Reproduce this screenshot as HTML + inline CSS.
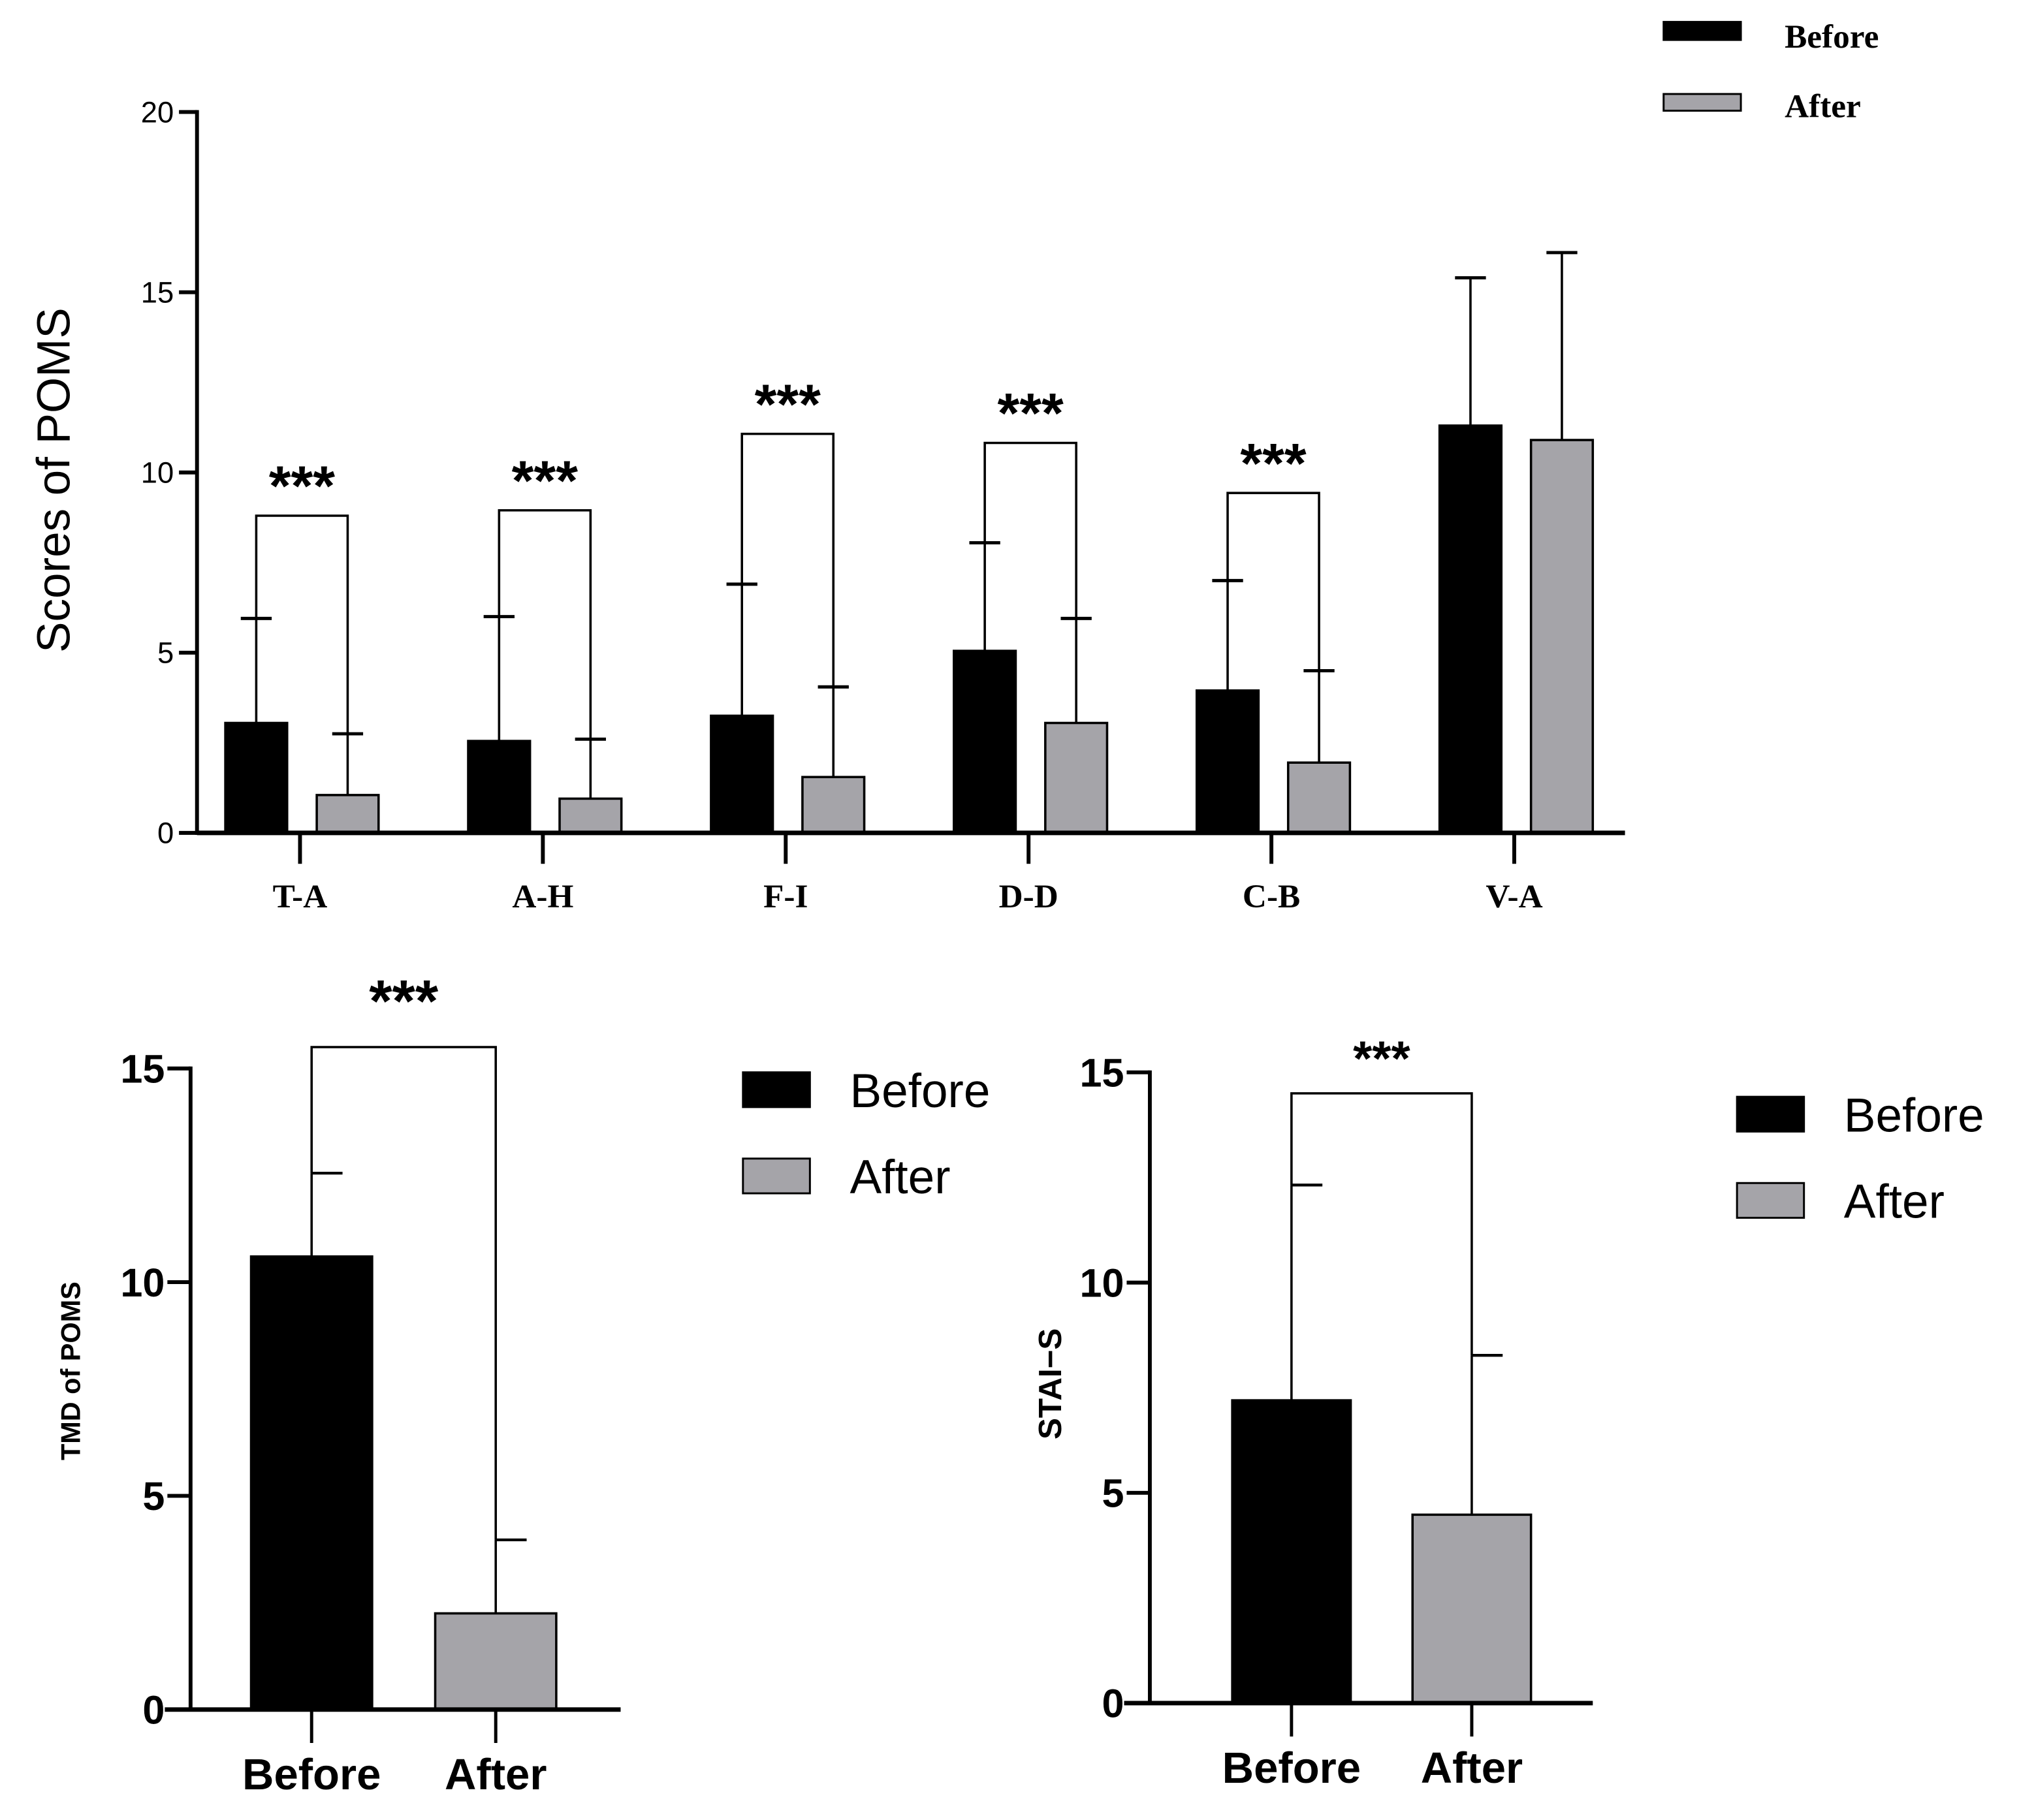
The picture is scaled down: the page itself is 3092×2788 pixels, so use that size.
<!DOCTYPE html>
<html><head><meta charset="utf-8"><style>
html,body{margin:0;padding:0;background:#fff;}
svg{display:block;}
</style></head><body>
<svg id="chart" xmlns="http://www.w3.org/2000/svg" width="3092" height="2788" viewBox="0 0 1568 1413.8">
<rect width="1568" height="1413.8" fill="#fff"/>
<g id="top"></g>
<g id="bl"></g>
<g id="br"></g>
</svg>
<script>
// Top chart data
const categories = ["T-A","A-H","F-I","D-D","C-B","V-A"];
const beforeVals = [3.05, 2.55, 3.25, 5.05, 3.95, 11.3];
const afterVals = [1.05, 0.95, 1.55, 3.05, 1.95, 10.9];
const beforeErr = [5.95, 6.0, 6.9, 8.05, 7.0, 15.4];
const afterErr = [2.75, 2.6, 4.05, 5.95, 4.5, 16.1];
const bracketLevels = [8.8, 8.95, 11.07, 10.82, 9.43, null];
const topTicks = [0,5,10,15,20];
// Bottom-left data
const tmdGroups = ["Before","After"];
const tmdVals = [10.6, 2.25];
const tmdErr = [12.55, 3.97];
const tmdBracket = 15.5;
const tmdTicks = [0,5,10,15];
// Bottom-right data
const staiGroups = ["Before","After"];
const staiVals = [7.2, 4.48];
const staiErr = [12.32, 8.27];
const staiBracket = 14.5;
const staiTicks = [0,5,10,15];

const NS = "http://www.w3.org/2000/svg";
function mk(parent, tag, attrs, text){
  const e = document.createElementNS(NS, tag);
  for (const k in attrs) e.setAttribute(k, attrs[k]);
  if (text !== undefined) e.textContent = text;
  parent.appendChild(e);
  return e;
}
const BLACK="#000", GRAY="#a5a4a9";

// ---------- Top chart ----------
(function(){
  const g = document.getElementById('top');
  const y0 = 647, yTop = 87, vMax = 20;
  const ys = v => y0 - (v/vMax)*(y0-yTop);
  const ax = 153, axEnd = 1262;
  const xC = i => 233 + i*188.6;
  const bw = 48;
  categories.forEach((c,i)=>{
    const cx = xC(i);
    const bx = cx-58, axx = cx+13;
    [[bx, beforeVals[i], beforeErr[i], BLACK, 'before'], [axx, afterVals[i], afterErr[i], GRAY, 'after']].forEach(([x,v,e,col,nm])=>{
      const m = x + bw/2;
      const el = mk(g,'line',{x1:m,x2:m,y1:ys(v),y2:ys(e),stroke:'#000','stroke-width':1.8});
      
      
      const cap = mk(g,'line',{x1:m-12,x2:m+12,y1:ys(e),y2:ys(e),stroke:'#000','stroke-width':2.5});
      
      
      const r = mk(g,'rect',{x:x,y:ys(v),width:bw,height:y0-ys(v),fill:col,stroke:'#000','stroke-width':1.8});
      
      
    });
    if (bracketLevels[i] !== null){
      const by = ys(bracketLevels[i]);
      const l = bx+bw/2, rr = axx+bw/2;
      const p = mk(g,'path',{d:`M${l},${ys(beforeErr[i])} L${l},${by} L${rr},${by} L${rr},${ys(afterErr[i])}`,fill:'none',stroke:'#000','stroke-width':1.8});
      
      
      const s = mk(g,'text',{x:(l+rr)/2,y:by-8,'text-anchor':'middle','font-family':'Liberation Sans, sans-serif','font-size':44,'font-weight':'bold'},'***');
      
      
    }
    const t = mk(g,'line',{x1:cx,x2:cx,y1:y0,y2:y0+24,stroke:'#000','stroke-width':3});
    
    
    const lab = mk(g,'text',{x:cx,y:705,'text-anchor':'middle','font-family':'Liberation Serif, serif','font-size':26,'font-weight':'bold'},c);
    
    
  });
  const ya = mk(g,'line',{x1:ax,x2:ax,y1:yTop-1.5,y2:y0+1.5,stroke:'#000','stroke-width':3});
  
  
  const xa = mk(g,'line',{x1:ax,x2:axEnd,y1:y0,y2:y0,stroke:'#000','stroke-width':3.5});
  
  
  topTicks.forEach(v=>{
    const tk = mk(g,'line',{x1:ax-14,x2:ax,y1:ys(v),y2:ys(v),stroke:'#000','stroke-width':3});
    
    
    const tl = mk(g,'text',{x:ax-18,y:ys(v)+8,'text-anchor':'end','font-family':'Liberation Sans, sans-serif','font-size':23},String(v));
    
    
  });
  const yt = mk(g,'text',{x:0,y:0,transform:'translate(54,373) rotate(-90)','text-anchor':'middle','font-family':'Liberation Sans, sans-serif','font-size':36},'Scores of POMS');
  
  
  const lg1 = mk(g,'rect',{x:1292,y:17,width:60,height:14,fill:BLACK,stroke:'#000','stroke-width':1.5});
  
  
  const lt1 = mk(g,'text',{x:1386,y:37,'font-family':'Liberation Serif, serif','font-size':26,'font-weight':'bold'},'Before');
  
  
  const lg2 = mk(g,'rect',{x:1292,y:73,width:60,height:13,fill:GRAY,stroke:'#000','stroke-width':1.5});
  
  
  const lt2 = mk(g,'text',{x:1386,y:91,'font-family':'Liberation Serif, serif','font-size':26,'font-weight':'bold'},'After');
  
  
})();

// ---------- Bottom charts ----------
function smallChart(id, o, groups, vals, errs, bracket, ticks){
  const g = document.getElementById(id);
  const ys = v => o.y0 - (v/15)*(o.y0-o.y15);
  groups.forEach((grp,i)=>{
    const x = o.barX[i];
    const m = x + o.bw/2;
    const col = i===0?BLACK:GRAY;
    const el = mk(g,'line',{x1:m,x2:m,y1:ys(vals[i]),y2:ys(errs[i]),stroke:'#000','stroke-width':1.8});
    
    
    const cap = mk(g,'line',{x1:m,x2:m+24,y1:ys(errs[i]),y2:ys(errs[i]),stroke:'#000','stroke-width':2.2});
    
    
    const r = mk(g,'rect',{x:x,y:ys(vals[i]),width:o.bw,height:o.y0-ys(vals[i]),fill:col,stroke:'#000','stroke-width':1.8});
    
    
    const t = mk(g,'line',{x1:m,x2:m,y1:o.y0,y2:o.y0+26,stroke:'#000','stroke-width':2.5});
    
    
    const lab = mk(g,'text',{x:m,y:o.y0+62,'text-anchor':'middle','font-family':'Liberation Sans, sans-serif','font-size':34,'font-weight':'bold'},grp);
    
    
  });
  const l = o.barX[0]+o.bw/2, rr = o.barX[1]+o.bw/2, by = ys(bracket);
  const p = mk(g,'path',{d:`M${l},${ys(errs[0])} L${l},${by} L${rr},${by} L${rr},${ys(errs[1])}`,fill:'none',stroke:'#000','stroke-width':1.8});
  
  
  const s = mk(g,'text',{x:(l+rr)/2,y:by-o.starOff,'text-anchor':'middle','font-family':'Liberation Sans, sans-serif','font-size':o.starSize,'font-weight':'bold'},'***');
  
  
  const ya = mk(g,'line',{x1:o.ax,x2:o.ax,y1:o.y15-1.5,y2:o.y0+1.5,stroke:'#000','stroke-width':3});
  
  
  const xa = mk(g,'line',{x1:o.ax-20,x2:o.axEnd,y1:o.y0,y2:o.y0,stroke:'#000','stroke-width':3.5});
  
  
  ticks.forEach(v=>{
    const tk = mk(g,'line',{x1:o.ax-18,x2:o.ax,y1:ys(v),y2:ys(v),stroke:'#000','stroke-width':3});
    
    
    const tl = mk(g,'text',{x:o.ax-20,y:ys(v)+11,'text-anchor':'end','font-family':'Liberation Sans, sans-serif','font-size':31,'font-weight':'bold'},String(v));
    
    
  });
  const yt = mk(g,'text',{x:0,y:0,transform:`translate(${o.titleX},${o.titleY}) rotate(-90)`,'text-anchor':'middle','font-family':'Liberation Sans, sans-serif','font-size':o.titleSize,'font-weight':'bold'},o.title);
  
  
  const lg1 = mk(g,'rect',{x:o.legX,y:o.legY,width:52,height:27,fill:BLACK,stroke:'#000','stroke-width':1.5});
  
  
  const lt1 = mk(g,'text',{x:o.legX+83,y:o.legY+27,'font-family':'Liberation Sans, sans-serif','font-size':37},'Before');
  
  
  const lg2 = mk(g,'rect',{x:o.legX,y:o.legY+67,width:52,height:27,fill:GRAY,stroke:'#000','stroke-width':1.5});
  
  
  const lt2 = mk(g,'text',{x:o.legX+83,y:o.legY+94,'font-family':'Liberation Sans, sans-serif','font-size':37},'After');
  
  
}
smallChart('bl',{y0:1328,y15:830,ax:148,axEnd:482,barX:[195,338],bw:94,starOff:20,starSize:46,
  title:'TMD of POMS',titleX:62,titleY:1065,titleSize:21,legX:577,legY:833}, tmdGroups, tmdVals, tmdErr, tmdBracket, tmdTicks);
smallChart('br',{y0:1323,y15:833,ax:893,axEnd:1237,barX:[957,1097],bw:92,starOff:14,starSize:38,
  title:'STAI−S',titleX:824,titleY:1075,titleSize:25,legX:1349,legY:852}, staiGroups, staiVals, staiErr, staiBracket, staiTicks);
</script>
</body></html>
